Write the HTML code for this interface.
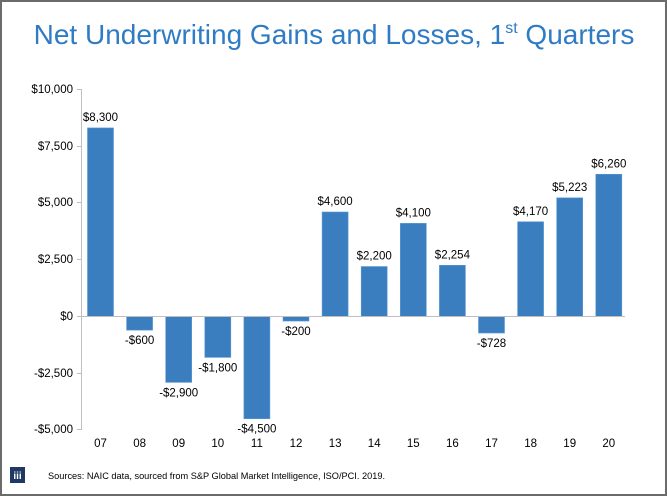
<!DOCTYPE html>
<html><head><style>
body{margin:0;background:#fff;}
svg{display:block;font-family:"Liberation Sans",Arial,sans-serif;}
</style></head><body>
<svg width="667" height="496" viewBox="0 0 667 496">
<rect x="1" y="1" width="665" height="494" fill="#fff" stroke="#6b6b6b" stroke-width="2"/>
<text x="334" y="44" text-anchor="middle" font-size="28" fill="#2f7bc4">Net Underwriting Gains and Losses, 1<tspan font-size="16" dy="-11">st</tspan><tspan dy="11"> Quarters</tspan></text>
<g stroke="#bfbfbf" stroke-width="1">
<line x1="81.5" y1="89" x2="81.5" y2="430"/>
<line x1="77" y1="89.5" x2="81" y2="89.5"/>
<line x1="77" y1="146.5" x2="81" y2="146.5"/>
<line x1="77" y1="202.5" x2="81" y2="202.5"/>
<line x1="77" y1="259.5" x2="81" y2="259.5"/>
<line x1="77" y1="316.5" x2="81" y2="316.5"/>
<line x1="77" y1="373.5" x2="81" y2="373.5"/>
<line x1="77" y1="429.5" x2="81" y2="429.5"/>
</g>
<g font-size="11.5" fill="#000" text-anchor="end">
<text x="73" y="93">$10,000</text>
<text x="73" y="150">$7,500</text>
<text x="73" y="206">$5,000</text>
<text x="73" y="263">$2,500</text>
<text x="73" y="320">$0</text>
<text x="73" y="377">-$2,500</text>
<text x="73" y="433">-$5,000</text>
</g>
<g id="bars" fill="#3a7ebf" stroke="#5b9bd5" stroke-width="0.6"></g>
<line x1="81" y1="316.5" x2="625" y2="316.5" stroke="#bfbfbf"/>
<g id="labels" font-size="11.5" fill="#000" text-anchor="middle"></g>
<rect x="10" y="467" width="15" height="16" fill="#1f3864"/>
<text x="17.5" y="479" font-size="10" fill="#fff" text-anchor="middle" font-weight="bold">iii</text>
<text x="48" y="479" font-size="9.5" fill="#000" textLength="337" lengthAdjust="spacingAndGlyphs">Sources: NAIC data, sourced from S&amp;P Global Market Intelligence, ISO/PCI. 2019.</text>
<script>
var d=[["07",8300,"$8,300"],["08",-600,"-$600"],["09",-2900,"-$2,900"],["10",-1800,"-$1,800"],["11",-4500,"-$4,500"],["12",-200,"-$200"],["13",4600,"$4,600"],["14",2200,"$2,200"],["15",4100,"$4,100"],["16",2254,"$2,254"],["17",-728,"-$728"],["18",4170,"$4,170"],["19",5223,"$5,223"],["20",6260,"$6,260"]];
var ns="http://www.w3.org/2000/svg",b=document.getElementById("bars"),l=document.getElementById("labels");
function t(x,y,s){var e=document.createElementNS(ns,"text");e.setAttribute("x",x);e.setAttribute("y",y);e.textContent=s;l.appendChild(e);}
d.forEach(function(v,i){var cx=100.5+i*39.1,z=316.5,h=v[1]*0.02272,w=26;
var r=document.createElementNS(ns,"rect");r.setAttribute("x",cx-w/2);r.setAttribute("width",w);
r.setAttribute("y",h>0?z-h:z);r.setAttribute("height",Math.abs(h));b.appendChild(r);
if(h>0)t(cx,z-h-7,v[2]);else t(cx,z-h+14,v[2]);
t(cx,447,v[0]);});
</script>
</svg>
</body></html>
